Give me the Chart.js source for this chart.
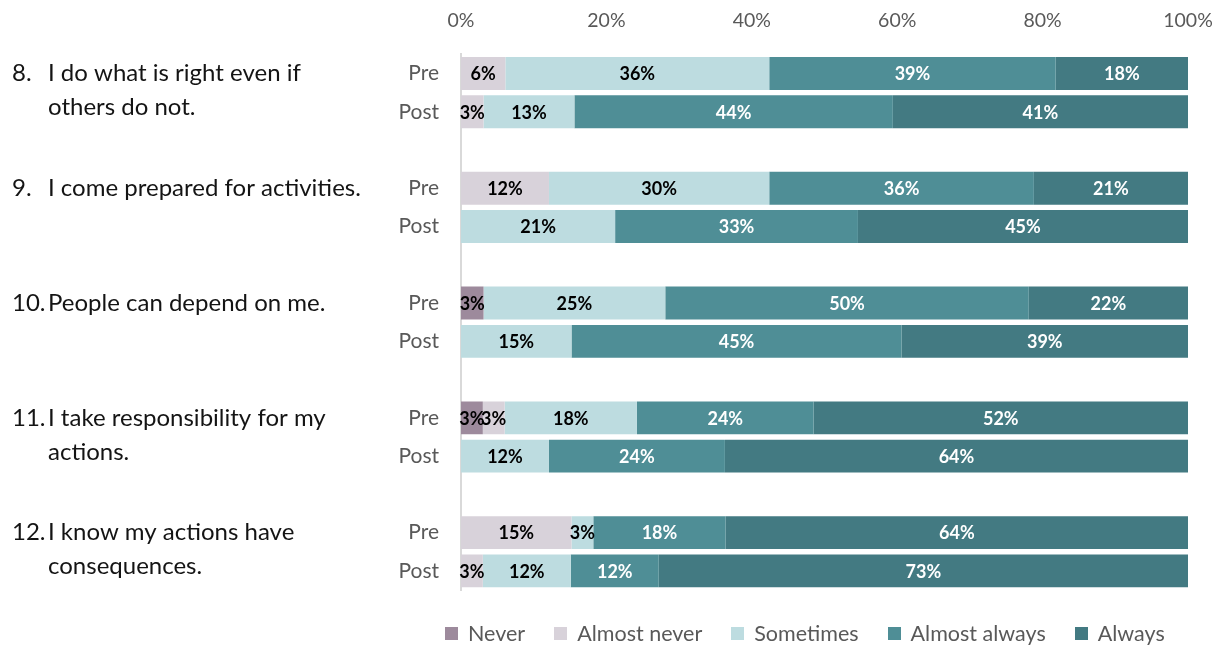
<!DOCTYPE html>
<html>
<head>
<meta charset="utf-8">
<script src="https://cdn.jsdelivr.net/npm/chart.js@4"></script>
<style>
  body { margin: 0; background: #fff; }
  #wrap { position: relative; width: 1225px; height: 646px; }
  #legend { position: absolute; left: 445px; top: 620px; display: flex; gap: 29px;
            font-family: Lato, sans-serif; font-size: 21.5px; color: #595959; }
  #legend span.item { display: flex; align-items: center; }
  #legend span.box { width: 13px; height: 13px; margin-right: 10px; display: inline-block; }
</style>
</head>
<body>
<div id="wrap">
  <canvas id="chartOne" width="1225" height="646"></canvas>
  <div id="legend"></div>
</div>
<script>
// filas: Pre / Post por pregunta, '' = hueco entre grupos
let rowLabels = ['Pre','Post','','Pre','Post','','Pre','Post','','Pre','Post','','Pre','Post'];
let questions = [
    ['8.', 'I do what is right even if', 'others do not.'],
    ['9.', 'I come prepared for activities.'],
    ['10.', 'People can depend on me.'],
    ['11.', 'I take responsibility for my', 'actions.'],
    ['12.', 'I know my actions have', 'consequences.']
];
let seriesNames = ['Never','Almost never','Sometimes','Almost always','Always'];
let never        = [0, 0, null, 0, 0, null, 3.1, 0, null, 3.0, 0, null, 0, 0];
let almostNever  = [6.1, 3.1, null, 12.1, 0, null, 0, 0, null, 3.0, 0, null, 15.2, 3.0];
let sometimes    = [36.3, 12.5, null, 30.3, 21.2, null, 25.0, 15.2, null, 18.2, 12.1, null, 3.0, 12.1];
let almostAlways = [39.4, 43.8, null, 36.4, 33.4, null, 50.0, 45.4, null, 24.3, 24.2, null, 18.2, 12.1];
let always       = [18.2, 40.6, null, 21.2, 45.4, null, 21.9, 39.4, null, 51.5, 63.7, null, 63.6, 72.8];
let xTicks = [0, 20, 40, 60, 80, 100];

let colors = ['#9d8a9c', '#d8d2da', '#bddce0', '#4f8e96', '#437a82'];
let labelColors = ['#000', '#000', '#000', '#fff', '#fff'];
let allSeries = [never, almostNever, sometimes, almostAlways, always];
const FONT = 'Lato, sans-serif';

// etiquetas dentro de las barras
const barLabels = {
    id: 'barLabels',
    afterDatasetsDraw(chart) {
        const ctx = chart.ctx;
        ctx.save();
        ctx.font = 'bold 18px ' + FONT;
        ctx.textAlign = 'center';
        ctx.textBaseline = 'middle';
        chart.data.datasets.forEach((ds, i) => {
            const meta = chart.getDatasetMeta(i);
            meta.data.forEach((bar, j) => {
                const v = ds.data[j];
                if (!v) return;
                const p = bar.getProps(['x', 'y', 'base'], true);
                ctx.fillStyle = labelColors[i];
                ctx.fillText(Math.round(v) + '%', (p.x + p.base) / 2, p.y + 1);
            });
        });
        ctx.restore();
    }
};

// textos de las preguntas a la izquierda
const questionText = {
    id: 'questionText',
    afterDraw(chart) {
        const ctx = chart.ctx;
        const y = chart.scales.y;
        ctx.save();
        ctx.font = '24px ' + FONT;
        ctx.fillStyle = '#141414';
        ctx.textBaseline = 'middle';
        questions.forEach((q, g) => {
            const top = y.getPixelForValue(g * 3);
            ctx.fillText(q[0], 12, top);
            for (let k = 1; k < q.length; k++) {
                ctx.fillText(q[k], 48, top + (k - 1) * 34);
            }
        });
        ctx.restore();
    }
};

var ctxOne = document.getElementById('chartOne').getContext('2d');
var chartOne = new Chart(ctxOne, {
    type: 'bar',
    data: {
        labels: rowLabels,
        datasets: allSeries.map((d, i) => ({
            label: seriesNames[i],
            data: d,
            backgroundColor: colors[i],
            borderWidth: 0,
            categoryPercentage: 1,
            barPercentage: 0.86
        }))
    },
    options: {
        indexAxis: 'y',
        responsive: false,
        animation: false,
        layout: { padding: { top: -13, right: 37, bottom: 56, left: 0 } },
        plugins: {
            legend: { display: false },
            tooltip: { enabled: false }
        },
        scales: {
            x: {
                position: 'top',
                stacked: true,
                min: 0,
                max: 100,
                afterBuildTicks: s => { s.ticks = xTicks.map(v => ({ value: v })); },
                afterFit: s => { s.paddingRight = 0; s.paddingLeft = 0; },
                ticks: {
                    callback: v => v + '%',
                    color: '#595959',
                    font: { size: 19.5, family: FONT },
                    padding: 22
                },
                grid: { display: false, drawTicks: false },
                border: { display: false }
            },
            y: {
                stacked: true,
                afterFit: s => { s.width = 461; },
                ticks: {
                    autoSkip: false,
                    color: '#595959',
                    font: { size: 21, family: FONT },
                    padding: 22
                },
                grid: { display: false, drawTicks: false },
                border: { display: true, color: '#d9d9d9', width: 2 }
            }
        }
    },
    plugins: [barLabels, questionText]
});

// leyenda
const legend = document.getElementById('legend');
seriesNames.forEach((n, i) => {
    legend.insertAdjacentHTML('beforeend',
        `<span class="item"><span class="box" style="background:${colors[i]}"></span>${n}</span>`);
});
</script>
</body>
</html>
